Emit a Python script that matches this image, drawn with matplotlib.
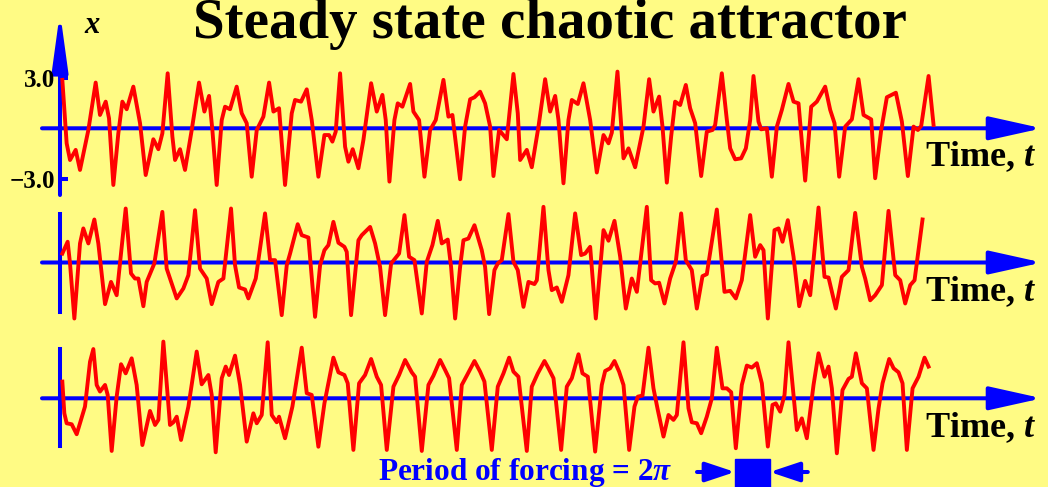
import numpy as np
import matplotlib
matplotlib.use("Agg")
import matplotlib.pyplot as plt
from matplotlib.patches import Rectangle

plt.rcParams['font.family'] = ['Liberation Serif', 'DejaVu Serif']
plt.rcParams['mathtext.fontset'] = 'custom'
plt.rcParams['mathtext.rm'] = 'Liberation Serif:bold'
plt.rcParams['mathtext.it'] = 'Liberation Serif:italic:bold'

# three stretches of the steady state, x(t)
t1 = [0.06, 0.84, 1.45, 2.47, 3.25, 4.76, 6.08, 6.86, 7.89, 8.49, 9.27, 10.17, 10.90, 11.68,
      12.88, 14.09, 15.11, 16.49, 17.40, 18.12, 19.08, 19.93, 20.41, 21.31, 22.21, 23.42,
      24.74, 25.71, 26.55, 27.15, 27.93, 28.84, 29.44, 30.34, 31.54, 32.45, 33.35, 34.25,
      35.16, 36.36, 37.39, 38.17, 39.19, 40.27, 41.48, 42.08, 43.16, 44.19, 45.09, 46.29,
      47.38, 48.22, 48.82, 49.42, 50.21, 51.11, 51.71, 52.49, 53.52, 54.42, 55.81, 56.83,
      57.85, 58.45, 59.12, 60.02, 60.62, 61.46, 62.85, 63.45, 64.47, 65.44, 66.46, 67.48,
      68.87, 69.77, 70.49, 71.88, 72.78, 73.69, 74.47, 75.49, 76.39, 77.30, 77.90, 78.92,
      80.31, 81.51, 82.29, 82.72, 83.92, 84.82, 86.03, 87.23, 88.13, 89.04, 89.64, 90.54,
      91.44, 92.05, 93.13, 94.15, 95.36, 96.56, 97.77, 98.67, 99.27, 100.29, 101.38, 102.28,
      103.48, 104.99, 106.01, 106.79, 107.81, 108.42, 109.20, 109.98, 110.70, 111.61, 112.63,
      113.41, 114.32, 115.40, 116.42, 117.45, 117.93, 119.13, 120.04, 120.64, 121.54, 122.62,
      123.47, 124.25, 124.85, 125.75, 126.24, 127.26, 128.16, 129.07, 129.97, 131.17, 132.08,
      132.98, 134.18, 135.27, 136.29, 137.79, 138.70, 139.48, 140.32, 141.41, 142.61, 143.81,
      144.72, 146.10, 146.82, 147.91, 148.93, 150.56, 151.64, 152.72, 153.75, 154.53, 155.13,
      156.46, 157.36]
x1 = [2.87, -0.89, -1.88, -1.28, -2.47, -0.10, 2.71, 0.79, 1.58, 0.59, -3.36, -0.30, 1.58, 1.13,
      2.47, 0.30, -2.77, -0.65, -1.24, -0.30, 3.26, -0.49, -1.88, -1.24, -2.47, -0.10,
      2.71, 0.99, 1.92, -0.10, -3.36, 0.49, 1.28, 1.13, 2.47, 0.89, 0.30, -2.87,
      -0.10, 0.69, 2.71, 0.99, 1.19, -3.36, 0.89, 1.68, 1.58, 2.31, 0.49, -2.87,
      -0.40, -0.40, -0.79, -0.20, 3.26, -1.09, -1.98, -1.24, -2.37, -0.69, 2.67, 0.99,
      1.98, 0.49, -3.16, 0.49, 1.48, 1.28, 2.63, 0.99, 0.49, -2.87, -0.10, 0.49,
      2.87, 0.69, 0.79, -3.02, 0.10, 1.72, 1.84, 2.17, 1.48, 0.10, -2.83, -0.10,
      -0.65, 3.22, 0.89, -1.88, -1.28, -2.31, 0.10, 2.91, 0.99, 1.92, 0.49, -3.26,
      0.49, 1.68, 1.44, 2.67, 0.49, -2.62, -0.40, -0.89, -0.26, 3.36, -1.78, -1.19,
      -2.31, 0.10, 2.91, 0.99, 1.88, 0.10, -3.22, -0.49, 1.58, 1.38, 2.57,
      1.19, 0.30, -2.83, -0.20, -0.10, 0.20, 3.26, 0.49, -1.19, -1.84, -1.78,
      -1.19, 0.49, 3.10, 0.40, -0.06, 0.00, -2.87, 0.10, 1.09, 2.63, 1.58,
      1.48, -3.10, 1.28, 1.58, 2.47, 1.09, 0.30, -2.87, 0.10, 0.53, 2.91,
      0.79, 0.53, -2.96, -0.10, 1.84, 2.11, 0.40, -2.83, 0.10, -0.10, 0.14,
      3.10, 0.20]

t2 = [0.06, 1.02, 1.45, 2.23, 3.25, 3.85, 4.76, 5.84, 6.56, 7.77, 8.85, 9.87, 11.50, 12.46,
      13.18, 13.79, 14.69, 15.29, 16.67, 18.12, 18.90, 19.50, 20.71, 21.91, 22.82, 24.02,
      24.92, 26.13, 27.03, 28.23, 29.14, 30.52, 31.24, 31.97, 33.05, 33.65, 34.98, 36.66,
      37.57, 38.47, 39.67, 40.58, 41.18, 42.56, 43.28, 44.49, 45.69, 46.60, 47.38, 48.10,
      49.00, 49.91, 50.99, 51.41, 52.19, 53.52, 54.12, 55.63, 56.53, 57.43, 58.33, 59.42,
      60.14, 60.86, 61.83, 62.67, 63.63, 64.96, 65.86, 66.88, 67.85, 68.57, 69.65, 70.25,
      70.98, 71.88, 72.48, 73.38, 74.47, 75.79, 76.39, 77.12, 78.08, 78.68, 79.40, 80.61,
      81.51, 82.29, 83.32, 84.22, 85.30, 85.73, 86.93, 87.83, 88.43, 89.34, 90.24, 91.44,
      92.65, 93.73, 94.45, 95.36, 96.38, 97.77, 98.67, 99.75, 100.78, 101.80, 102.88, 103.79,
      105.59, 106.37, 107.09, 107.81, 108.78, 109.80, 110.82, 111.79, 112.63, 113.71, 114.62,
      115.64, 116.42, 118.23, 119.61, 120.64, 121.66, 122.74, 124.25, 125.15, 126.06, 126.66,
      127.44, 128.64, 129.37, 130.09, 131.05, 132.08, 133.10, 134.18, 135.09, 136.59, 137.67,
      138.40, 139.72, 140.80, 142.01, 143.21, 144.42, 145.02, 145.92, 146.82, 148.03, 149.23,
      150.44, 151.34, 152.24, 153.15, 153.93, 155.37]
x2 = [0.53, 1.23, -0.06, -3.32, 1.13, 2.02, 1.13, 2.55, 1.13, -2.47, -1.15, -1.94, 3.20, -0.65,
      -0.95, -0.95, -2.59, -1.15, -0.06, 3.00, -0.36, -0.95, -2.13, -1.54, -0.75, 3.10,
      -0.36, -0.95, -2.47, -1.15, -0.95, 3.20, -0.16, -1.48, -1.60, -2.13, -0.95, 2.91,
      0.14, 0.14, -3.12, -0.16, 0.53, 2.27, 1.62, 1.48, -3.22, -0.16, 0.73, 1.03,
      2.41, 1.17, 0.93, 0.63, -3.12, 1.32, 1.62, 2.11, 1.13, -0.26, -3.12, -0.06,
      0.24, 0.53, 2.81, 0.34, 0.14, -3.02, 0.04, 1.03, 2.47, 1.13, 1.36, -0.26,
      -3.32, -0.26, 1.32, 1.42, 2.21, 0.73, -0.26, -3.06, -0.45, -0.06, 0.14, 2.87,
      0.04, -0.45, -2.63, -1.15, -1.28, -1.05, 3.30, -0.45, -1.64, -1.48, -2.33, -0.75,
      2.91, 0.44, 0.53, 0.93, -3.32, 1.92, 1.29, 2.47, 0.34, -2.73, -0.95, -1.74,
      3.30, -1.05, -1.24, -1.20, -2.43, -0.95, 0.04, 2.91, 0.14, -0.45, -2.73,
      -0.81, -0.69, 3.14, -1.74, -1.68, -2.13, -1.05, 2.81, 0.34, 1.03, 0.73,
      -3.32, 1.92, 2.02, 1.23, 2.51, 0.34, -2.59, -1.09, -1.94, 3.26, -0.85,
      -0.89, -2.73, -0.85, -0.45, 2.94, -0.26, -0.95, -2.24, -1.94, -1.34, 3.06,
      -0.75, -1.05, -2.43, -1.34, -1.05, 2.55]

t3 = [0.06, 0.42, 0.84, 1.75, 2.65, 4.15, 5.06, 5.66, 6.26, 6.86, 7.77, 8.25, 8.97, 9.87,
      10.66, 11.50, 12.58, 13.48, 14.51, 15.89, 16.80, 17.40, 18.30, 19.50, 20.11, 20.71,
      21.49, 22.82, 24.32, 25.22, 26.43, 27.03, 27.75, 28.84, 29.56, 30.16, 31.24, 32.15,
      33.35, 34.55, 35.16, 36.06, 37.14, 37.87, 38.77, 39.19, 40.27, 41.60, 43.28, 44.19,
      45.09, 46.29, 47.38, 49.00, 49.91, 50.99, 51.59, 52.61, 53.64, 54.72, 55.81, 56.83,
      57.61, 58.64, 59.84, 60.86, 61.95, 63.15, 63.75, 64.96, 66.16, 67.06, 68.27, 69.17,
      69.89, 71.28, 72.18, 73.08, 74.47, 75.49, 76.27, 77.60, 78.68, 79.71, 80.73, 81.51,
      82.41, 83.92, 84.82, 85.91, 87.11, 87.83, 88.74, 90.12, 91.14, 92.05, 93.25, 93.97,
      94.94, 96.26, 97.46, 98.07, 98.97, 99.75, 100.59, 101.38, 102.40, 103.36, 103.97, 104.81,
      105.89, 106.79, 107.57, 108.60, 109.50, 110.40, 111.01, 112.21, 113.11, 113.71, 114.62,
      115.40, 116.42, 117.33, 118.23, 119.25, 120.04, 120.82, 121.66, 122.74, 123.65, 124.55,
      125.45, 126.36, 127.44, 128.28, 128.88, 129.67, 130.45, 131.17, 132.08, 132.68, 133.58,
      134.48, 135.69, 136.59, 137.67, 138.40, 139.00, 139.90, 140.92, 142.01, 142.61, 143.33,
      144.42, 145.32, 146.52, 147.43, 148.15, 149.35, 150.14, 151.04, 151.76, 152.54, 153.57,
      154.65, 155.73, 156.46]
x3 = [0.99, -0.89, -1.48, -1.54, -2.13, -0.49, 2.17, 2.92, 0.79, 0.40, 0.79, 0.20, -3.12, 0.10,
      2.02, 1.48, 2.37, 0.79, -2.77, -0.75, -1.58, -1.28, 3.36, -1.58, -1.42, -1.09,
      -2.47, -0.49, 2.77, 0.83, 1.38, 0.20, -3.20, 1.19, 1.88, 1.38, 2.53, 0.79,
      -2.57, -0.89, -1.48, -0.99, 3.32, -0.99, -1.42, -1.09, -2.37, -0.49, 3.00, 0.30,
      0.20, -2.87, -0.30, 2.41, 1.54, 1.38, 0.89, -3.06, 0.89, 1.38, 2.33, 1.28,
      0.79, -3.06, 0.69, 1.38, 2.27, 1.54, 1.28, -3.12, 0.79, 1.34, 2.27, 1.68,
      1.19, -3.06, 0.79, 1.34, 2.21, 1.58, 0.99, -3.06, 0.69, 1.48, 2.41, 1.58,
      1.28, -3.12, 0.69, 1.48, 2.21, 1.78, 1.19, -3.06, 0.69, 1.19, 2.61, 1.48,
      1.28, -3.16, 0.79, 1.62, 1.78, 2.21, 1.58, 0.79, -3.06, -0.49, 0.10, 0.16,
      3.00, 0.59, -0.69, -2.27, -0.99, -1.28, -0.99, 3.32, -0.59, -1.42, -1.48,
      -2.07, -1.09, 0.00, 3.00, 0.59, 0.59, 0.36, -2.96, 0.79, 1.94, 1.82,
      2.08, 0.89, -2.86, -0.39, -0.30, -0.79, 0.20, 3.32, 0.20, -1.88, -1.19,
      -2.37, 0.79, 2.67, 1.28, 1.88, 0.59, -3.26, 0.49, 1.15, 1.28, 2.67,
      0.89, 0.59, -3.06, -0.59, 0.89, 2.33, 1.78, 1.54, 0.89, -3.06, 0.59,
      1.28, 2.41, 1.88]

series = [(t1, x1), (t2, x2), (t3, x3)]

BG = '#FFFB84'
RED = '#FF0000'
BLUE = '#0000FF'

W, H = 1048, 487
fig = plt.figure(figsize=(W / 100, H / 100), dpi=100, facecolor=BG)

# horizontal scale: t = 0 at px 62, 2*pi is 34.8 px
k = 2 * np.pi / 34.8
ppu = 16.87   # px per unit of x
bands = [(0, 195, 128.3), (195, 330, 262.5), (330, 487, 398.3)]
label_base = [166, 301, 437]

axes = []
for (top, bot, mid), (t, x), lb in zip(bands, series, label_base):
    ax = fig.add_axes([0, 1 - bot / H, 1, (bot - top) / H])
    ax.set_xlim(-62 * k, (W - 62) * k)
    ax.set_ylim((mid - bot) / ppu, (mid - top) / ppu)
    ax.axis('off')
    ax.annotate('', xy=((1042 - 62) * k, 0), xytext=((42 - 62) * k, 0),
                arrowprops=dict(arrowstyle='-|>,head_length=0.45,head_width=0.1',
                                mutation_scale=72, lw=2.9, color=BLUE,
                                shrinkA=0, shrinkB=0), zorder=2)
    ax.plot(t, x, color=RED, lw=2.8, zorder=3, solid_joinstyle='round')
    fig.text(925 / W, 1 - lb / H, 'Time, $t$', fontsize=26, fontweight='bold',
             ha='left', va='baseline')
    axes.append(ax)

ax1, ax2, ax3 = axes
t_ax = -2 * k

# x axis with arrow on the top trace
ax1.annotate('', xy=(t_ax, (128.3 - 12) / ppu), xytext=(t_ax, (128.3 - 195) / ppu),
             arrowprops=dict(arrowstyle='-|>,head_length=0.4,head_width=0.055',
                             mutation_scale=86, lw=2.9, color=BLUE,
                             shrinkA=0, shrinkB=0), zorder=2)
ax1.hlines([3.0, -3.0], t_ax, t_ax + 8 * k, color=BLUE, lw=2.9)
ax2.plot([t_ax, t_ax], [2.87, -2.93], color=BLUE, lw=2.9, zorder=2)
ax3.plot([t_ax, t_ax], [2.93, -2.83], color=BLUE, lw=2.9, zorder=2)

fig.text(55 / W, 1 - 87 / H, '3.0', fontsize=18, fontweight='bold', ha='right', va='baseline')
fig.text(55 / W, 1 - 188 / H, '\u22123.0', fontsize=18, fontweight='bold', ha='right', va='baseline')
fig.text(92 / W, 1 - 33 / H, 'x', fontsize=22, fontweight='bold', style='italic',
         ha='center', va='baseline')

fig.text(550 / W, 1 - 38 / H, 'Steady state chaotic attractor', fontsize=41,
         fontweight='bold', ha='center', va='baseline')

# period of forcing marker
y_box_top = (398.3 - 459) / ppu
y_box_bot = (398.3 - 490) / ppu
t_box = (735 - 62) * k
ax3.add_patch(Rectangle((t_box, y_box_bot), 2 * np.pi, y_box_top - y_box_bot,
                        color=BLUE, clip_on=False, zorder=4))
y_arr = (398.3 - 472) / ppu
ax3.annotate('', xy=(t_box, y_arr), xytext=(t_box - 38 * k, y_arr),
             arrowprops=dict(arrowstyle='-|>,head_length=0.45,head_width=0.15',
                             mutation_scale=40, lw=2.9, color=BLUE,
                             shrinkA=0, shrinkB=0), annotation_clip=False)
ax3.annotate('', xy=(t_box + 2 * np.pi, y_arr), xytext=(t_box + 2 * np.pi + 38 * k, y_arr),
             arrowprops=dict(arrowstyle='-|>,head_length=0.45,head_width=0.15',
                             mutation_scale=40, lw=2.9, color=BLUE,
                             shrinkA=0, shrinkB=0), annotation_clip=False)
fig.text(378 / W, 1 - 480 / H, r'Period of forcing = 2$\pi$', fontsize=22.5,
         fontweight='bold', color=BLUE, ha='left', va='baseline')

fig.savefig('out.png', dpi=100, facecolor=BG)
